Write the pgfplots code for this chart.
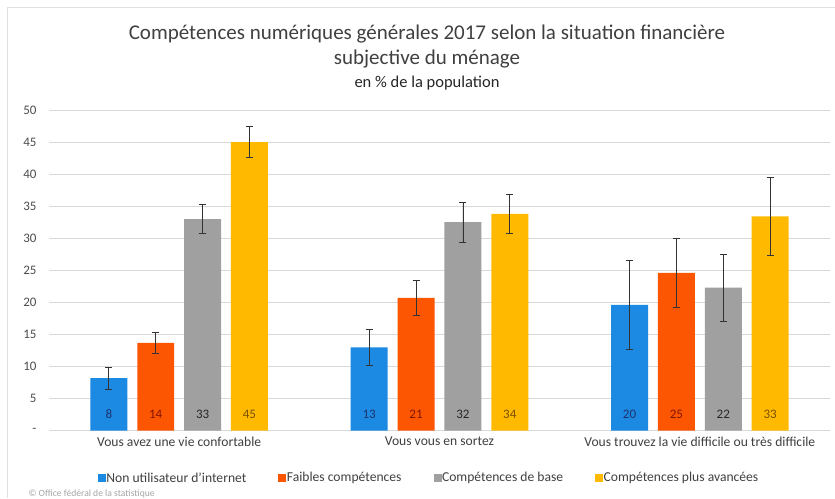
\documentclass[border=0pt]{standalone}
\usepackage{pgfplots}
\pgfplotsset{compat=1.18}
\usepackage{fontspec}
\setmainfont{Carlito}
\definecolor{cblue}{RGB}{28,138,226}
\definecolor{corange}{RGB}{252,86,2}
\definecolor{cgray}{RGB}{160,160,160}
\definecolor{cyellow}{RGB}{255,186,0}
\definecolor{lblue}{RGB}{30,50,110}
\definecolor{lorange}{RGB}{130,20,0}
\definecolor{lgray}{RGB}{38,38,38}
\definecolor{lyellow}{RGB}{120,80,0}
\definecolor{txt}{RGB}{64,64,64}
\begin{document}
\begin{tikzpicture}
\useasboundingbox (0,0) rectangle (835pt,498pt);
\fill[white] (0,0) rectangle (835pt,498pt);
\draw[black!12, line width=0.8pt] (7pt,0) -- (7pt,491pt) -- (835pt,491pt);
\node[text=txt, font=\fontsize{21}{24}\selectfont] at (427pt,464pt) {Compétences numériques générales 2017 selon la situation financière};
\node[text=txt, font=\fontsize{21}{24}\selectfont] at (427pt,439pt) {subjective du ménage};
\node[text=black!85, font=\fontsize{16.5}{18}\selectfont] at (427pt,415pt) {en \% de la population};
\node[text=black!35, font=\fontsize{9.6}{11}\selectfont, anchor=west] at (25pt,4pt) {© Office fédéral de la statistique};
\begin{axis}[
  at={(49pt,67.3pt)}, anchor=south west,
  width=781pt, height=320.7pt, scale only axis,
  xmin=-0.5, xmax=2.5, ymin=0, ymax=50,
  axis line style={draw=none},
  major tick length=0pt,
  ytick={0,5,...,50},
  yticklabels={-,5,10,15,20,25,30,35,40,45,50},
  yticklabel style={xshift=-9pt, text=black!70, font=\fontsize{13}{15}\selectfont},
  xtick={0,1,2},
  xticklabels={Vous avez une vie confortable, Vous vous en sortez, Vous trouvez la vie difficile ou très difficile},
  xticklabel style={yshift=-3pt, text=txt, font=\fontsize{13.6}{15}\selectfont},
  ymajorgrids, grid style={black!15, line width=0.8pt},
  bar width=0.142,
  error bars/error bar style={black!80, line width=0.8pt},
  error bars/error mark options={rotate=90, mark size=3.5pt, line width=0.8pt, black!80},
  legend columns=4,
  legend style={at={(0.0585,-0.1475)}, anchor=west, draw=none, fill=none,
    font=\fontsize{13.6}{15}\selectfont, text=txt,
    /tikz/every even column/.append style={column sep=30pt},
    /tikz/every odd column/.append style={column sep=-1.5pt}},
  legend cell align=left,
]
\addplot[ybar, bar shift=0pt, fill=cblue, draw=none,
  error bars/.cd, y dir=both, y explicit,
  /pgfplots/legend image code/.code={\fill[cblue] (0pt,-4pt) rectangle (8pt,4pt);}]
  coordinates {(-0.27,8.2) +- (0,1.7) (0.73,13.0) +- (0,2.8) (1.73,19.6) +- (0,7.0)};
\addlegendentry{Non utilisateur d'internet}
\addplot[ybar, bar shift=0pt, fill=corange, draw=none,
  error bars/.cd, y dir=both, y explicit,
  /pgfplots/legend image code/.code={\fill[corange] (0pt,-4pt) rectangle (8pt,4pt);}]
  coordinates {(-0.09,13.7) +- (0,1.7) (0.91,20.7) +- (0,2.7) (1.91,24.6) +- (0,5.4)};
\addlegendentry{Faibles compétences}
\addplot[ybar, bar shift=0pt, fill=cgray, draw=none,
  error bars/.cd, y dir=both, y explicit,
  /pgfplots/legend image code/.code={\fill[cgray] (0pt,-4pt) rectangle (8pt,4pt);}]
  coordinates {(0.09,33.0) +- (0,2.3) (1.09,32.5) +- (0,3.1) (2.09,22.3) +- (0,5.2)};
\addlegendentry{Compétences de base}
\addplot[ybar, bar shift=0pt, fill=cyellow, draw=none,
  error bars/.cd, y dir=both, y explicit,
  /pgfplots/legend image code/.code={\fill[cyellow] (0pt,-4pt) rectangle (8pt,4pt);}]
  coordinates {(0.27,45.0) +- (0,2.45) (1.27,33.8) +- (0,3.1) (2.27,33.4) +- (0,6.05)};
\addlegendentry{Compétences plus avancées}
% value labels
\addplot[only marks, mark=none, forget plot, nodes near coords, point meta=explicit symbolic,
  every node near coord/.append style={anchor=center, text=lblue, font=\fontsize{13}{15}\selectfont}]
  coordinates {(-0.27,2.6)[8] (0.73,2.6)[13] (1.73,2.6)[20]};
\addplot[only marks, mark=none, forget plot, nodes near coords, point meta=explicit symbolic,
  every node near coord/.append style={anchor=center, text=lorange, font=\fontsize{13}{15}\selectfont}]
  coordinates {(-0.09,2.6)[14] (0.91,2.6)[21] (1.91,2.6)[25]};
\addplot[only marks, mark=none, forget plot, nodes near coords, point meta=explicit symbolic,
  every node near coord/.append style={anchor=center, text=lgray, font=\fontsize{13}{15}\selectfont}]
  coordinates {(0.09,2.6)[33] (1.09,2.6)[32] (2.09,2.6)[22]};
\addplot[only marks, mark=none, forget plot, nodes near coords, point meta=explicit symbolic,
  every node near coord/.append style={anchor=center, text=lyellow, font=\fontsize{13}{15}\selectfont}]
  coordinates {(0.27,2.6)[45] (1.27,2.6)[34] (2.27,2.6)[33]};
\end{axis}
\end{tikzpicture}
\end{document}
